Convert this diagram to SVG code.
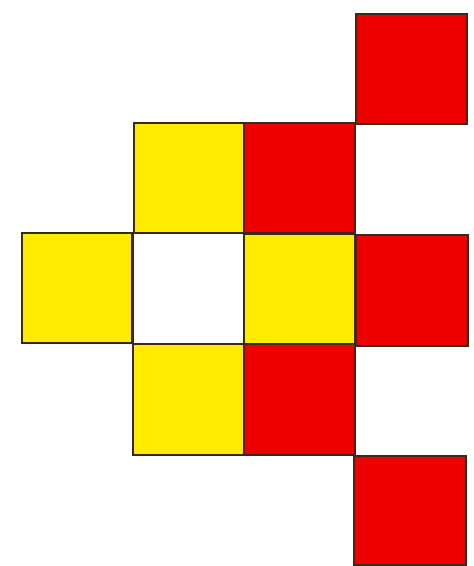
<svg xmlns="http://www.w3.org/2000/svg" width="474" height="566" viewBox="0 0 474 566">
<style>
.r{fill:#ee0000;stroke:#3a2a1c;stroke-width:2}
.y{fill:#ffec00;stroke:#3a2a1c;stroke-width:2}
.w{fill:#ffffff;stroke:#3a2a1c;stroke-width:2}
</style>
<rect width="474" height="566" fill="#ffffff"/>
<g id="r1"><rect class="r" x="356" y="14" width="111" height="110"/></g>
<g id="y2a"><rect class="y" x="134" y="123" width="110" height="110"/></g>
<g id="r2b"><rect class="r" x="244" y="123" width="111" height="110"/></g>
<g id="y3a"><rect class="y" x="22" y="233" width="110" height="110"/></g>
<g id="w3b"><rect class="w" x="133" y="233" width="111" height="111"/></g>
<g id="y3c"><rect class="y" x="244" y="234" width="111" height="110"/></g>
<g id="r3d"><rect class="r" x="356" y="235" width="112" height="111"/></g>
<g id="y4a"><rect class="y" x="133" y="344" width="111" height="111"/></g>
<g id="r4b"><rect class="r" x="244" y="344" width="111" height="111"/></g>
<g id="r5"><rect class="r" x="354" y="456" width="112" height="109"/></g>
<g id="connectors"></g>
</svg>
